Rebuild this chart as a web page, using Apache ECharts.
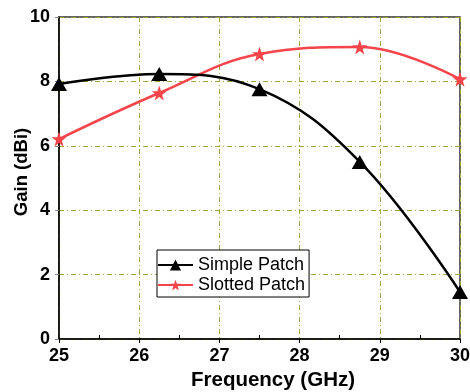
<!DOCTYPE html>
<html>
<head>
<meta charset="utf-8">
<script src="https://cdn.jsdelivr.net/npm/echarts@6/dist/echarts.min.js"></script>
<style>
  html, body { margin: 0; padding: 0; background: #fff; }
  #chart { width: 470px; height: 392px; }
</style>
</head>
<body>
<div id="chart"></div>
<script>
// Frequency samples (GHz) and measured gain (dBi) for both antenna designs
const frequency = [25, 26.25, 27.5, 28.75, 30];
const simplePatch = [7.92, 8.23, 7.76, 5.5, 1.46];
const slottedPatch = [6.21, 7.64, 8.85, 9.07, 8.07];
const seriesNames = ['Simple Patch', 'Slotted Patch'];
const xTicks = [25, 26, 27, 28, 29, 30];
const yTicks = [0, 2, 4, 6, 8, 10];

const gridColor = '#a3a33a';
const font = 'Liberation Sans, Arial, sans-serif';

const chart = echarts.init(document.getElementById('chart'), null, { renderer: 'canvas' });

const pairs = (ys) => frequency.map((f, i) => [f, ys[i]]);

chart.setOption({
  animation: false,
  backgroundColor: '#fff',
  grid: {
    left: 59, right: 10, top: 17, bottom: 53,
    outerBoundsMode: 'none',
    containLabel: false,
    show: true, borderColor: '#333', borderWidth: 1.5, backgroundColor: 'transparent'
  },
  legend: {
    orient: 'vertical',
    left: 157, top: 250,
    padding: [5, 4, 2, 0],
    itemGap: 0,
    itemWidth: 35, itemHeight: 14,
    borderColor: '#000', borderWidth: 1,
    backgroundColor: '#fff',
    textStyle: { fontFamily: font, fontSize: 18, color: '#000', lineHeight: 20 },
    data: seriesNames
  },
  xAxis: {
    type: 'value',
    min: xTicks[0], max: xTicks[xTicks.length - 1], interval: 1,
    name: 'Frequency (GHz)', nameLocation: 'middle', nameGap: 31,
    nameMoveOverlap: false,
    nameTextStyle: { fontFamily: font, fontSize: 20.5, fontWeight: 'bold', color: '#000', padding: [0, 0, 0, 27] },
    axisLine: { lineStyle: { color: '#000', width: 1.5 } },
    axisTick: { show: true, length: 4, lineStyle: { color: '#000' } },
    minorTick: { show: true, splitNumber: 2, length: -4, lineStyle: { color: '#000' } },
    axisLabel: { fontFamily: font, fontSize: 18, fontWeight: 'bold', color: '#000', margin: 8 },
    splitLine: { show: true, lineStyle: { color: gridColor, width: 1, type: [5, 3, 1, 3] } }
  },
  yAxis: {
    type: 'value',
    min: yTicks[0], max: yTicks[yTicks.length - 1], interval: 2,
    name: 'Gain (dBi)', nameLocation: 'middle', nameGap: 28, nameRotate: 90,
    nameMoveOverlap: false,
    nameTextStyle: { fontFamily: font, fontSize: 18.5, fontWeight: 'bold', color: '#000', padding: [0, 0, 0, 12] },
    axisLine: { show: true, lineStyle: { color: '#000', width: 1.5 } },
    axisTick: { show: true, length: 4, lineStyle: { color: '#888' } },
    axisLabel: { fontFamily: font, fontSize: 18, fontWeight: 'bold', color: '#000', margin: 9 },
    splitLine: { show: true, lineStyle: { color: gridColor, width: 1, type: [5, 3, 1, 3] } }
  },
  series: [
    {
      name: seriesNames[0],
      type: 'line',
      data: pairs(simplePatch),
      smooth: 0.4,
      symbol: 'triangle', symbolSize: [16, 14],
      lineStyle: { color: '#000', width: 2.5 },
      itemStyle: { color: '#000' },
      clip: false,
      z: 3
    },
    {
      name: seriesNames[1],
      type: 'line',
      data: pairs(slottedPatch),
      smooth: 0.4,
      symbol: 'path://M50,0 L61.8,35.3 L98.5,35.3 L68.8,57.1 L79.4,92.7 L50,71 L20.6,92.7 L31.2,57.1 L1.5,35.3 L38.2,35.3 Z',
      symbolSize: 15,
      lineStyle: { color: '#f5444a', width: 2.5 },
      itemStyle: { color: '#f5444a' },
      clip: false,
      z: 2
    }
  ]
});
</script>
</body>
</html>
